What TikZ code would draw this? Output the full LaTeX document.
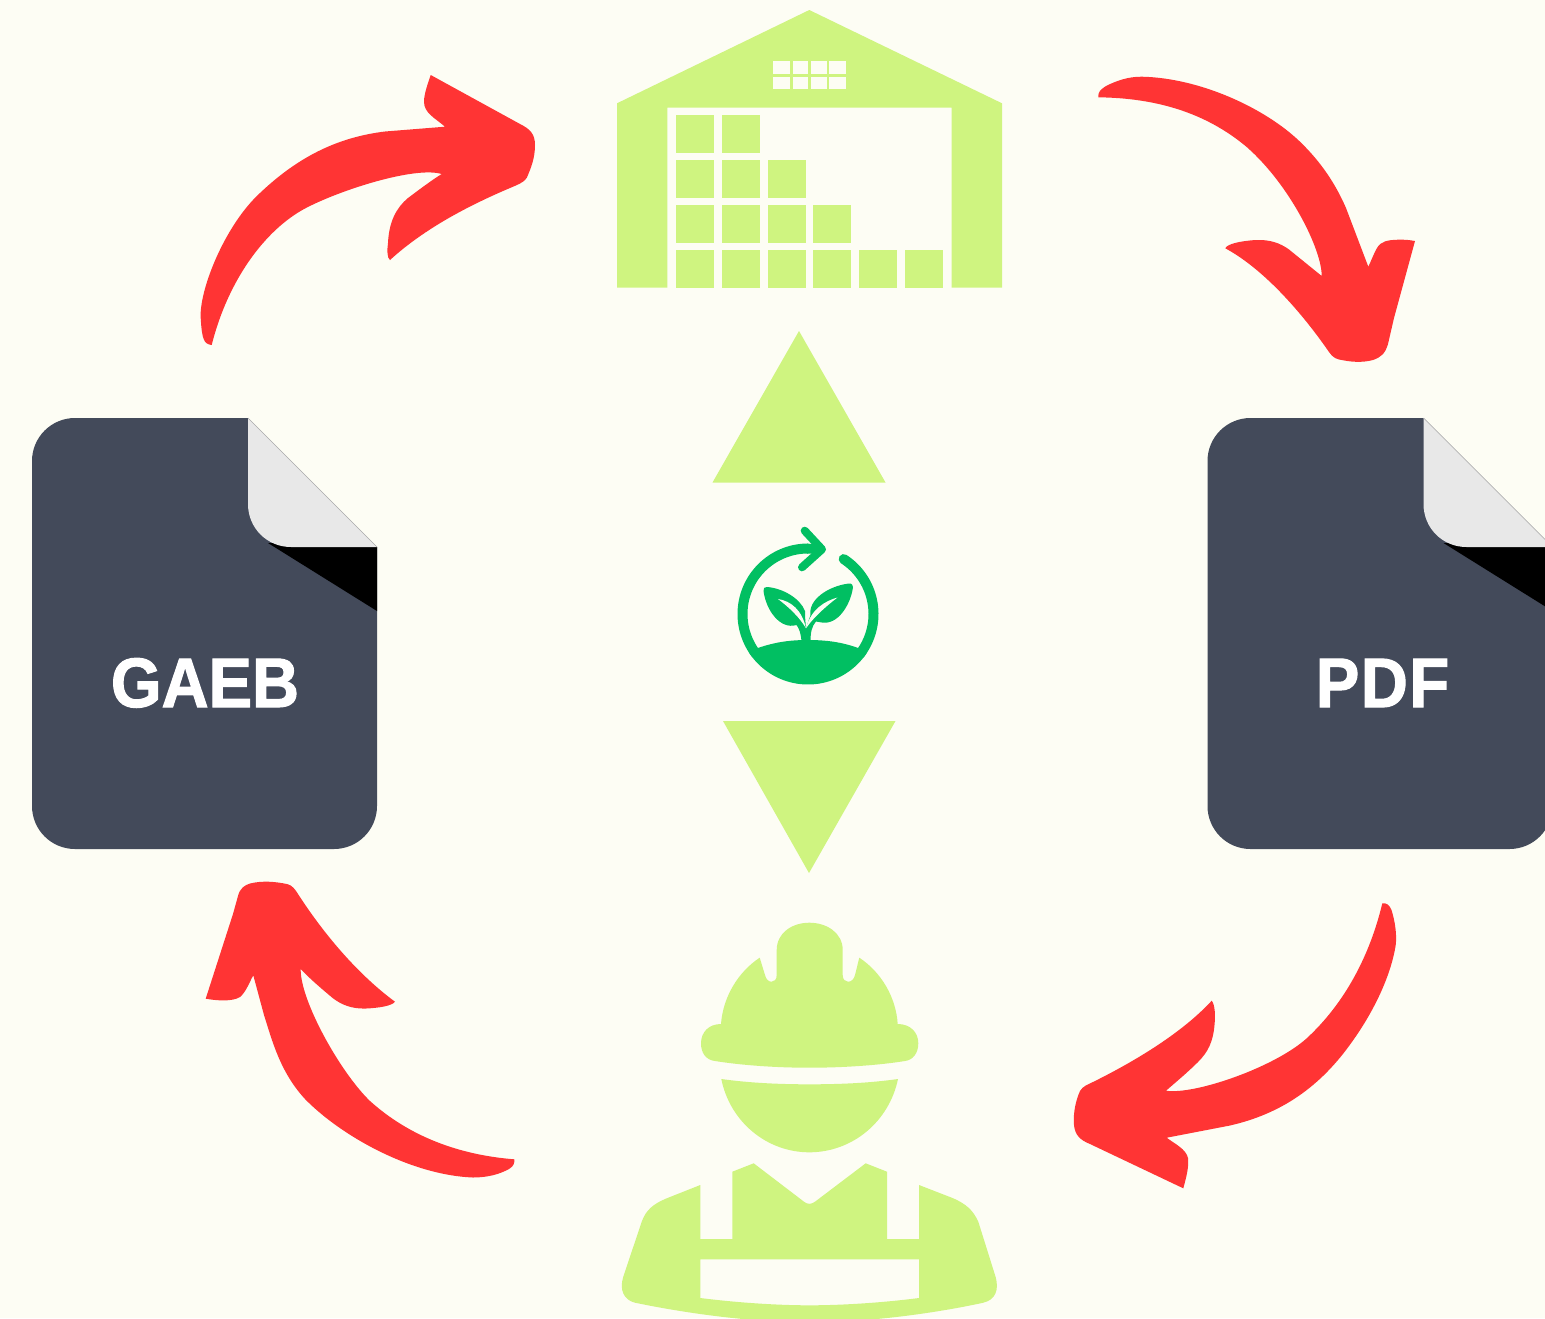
\documentclass[tikz,border=0pt]{standalone}
\usepackage{fontspec}
\newfontfamily\labelfont[FakeStretch=0.93,FakeBold=1.6]{Liberation Sans}
\definecolor{paper}{HTML}{FDFDF4}
\definecolor{lime}{HTML}{CFF480}
\definecolor{redarrow}{HTML}{FF3434}
\definecolor{slatefile}{HTML}{434A5A}
\definecolor{foldgrey}{HTML}{E8E8E8}
\definecolor{ecogreen}{HTML}{01BF62}
\tikzset{
  crate/.style={fill=lime},
  redshape/.style={fill=redarrow},
  filelabel/.style={text=white,anchor=base,inner sep=0pt,font=\labelfont\bfseries\fontsize{70}{70}\selectfont}
}
\newcommand{\filedoc}{%
  \fill[slatefile] (32,600) [rounded corners=43pt] -- (32,418) [sharp corners] -- (248,418) -- (377,547) [rounded corners=43pt] -- (377,849) -- (32,849) [sharp corners] -- cycle;
  \fill[black] (268,543) -- (377,547) -- (377,611) -- cycle;
  \fill[foldgrey] (248,418) -- (377,547) -- (291,547) .. controls (267,547) and (248,528) .. (248,504) -- cycle;
  \draw[gray!60,line width=0.6pt] (248,418) -- (377,547);
}
\begin{document}
\begin{tikzpicture}[x=1pt,y=-1pt]
\useasboundingbox (0,0) rectangle (1545,1318);
\clip (0,0) rectangle (1545,1318);
\fill[paper] (0,0) rectangle (1545,1318);

% warehouse
\fill[lime] (617,103.3) -- (809.3,10) -- (1002,103.3) -- (1002,287.7) -- (951.7,287.7) -- (951.7,107.7) -- (667.3,107.7) -- (667.3,287.7) -- (617,287.7) -- cycle;
\foreach \xa/\ya/\xb/\yb in {
  676/115/714/153, 722/115/760/153,
  676/160/714/198, 722/160/760/198, 768/160/806/198,
  676/205/714/243, 722/205/760/243, 768/205/806/243, 813/205/851/243,
  676/250/714/287.7, 722/250/760/287.7, 768/250/806/287.7, 813/250/851/287.7, 859/250/897/287.7, 905/250/943/287.7}
  \fill[crate] (\xa,\ya) rectangle (\xb,\yb);
\foreach \xa/\xb in {773.3/790, 792.7/808, 811/826.7, 829.3/845.7}
  \foreach \ya/\yb in {61.3/74, 77.3/89}
    \fill[paper] (\xa,\ya) rectangle (\xb,\yb);

% triangles
\fill[lime] (799,331) -- (885.5,482.5) -- (712.5,482.5) -- cycle;
\fill[lime] (723,721) -- (895.5,721) -- (809,873) -- cycle;

% files
\filedoc
\begin{scope}[xshift=1175.5pt]
\filedoc
\end{scope}
\node[filelabel] (gaeb) at (205,707) {GAEB};
\node[filelabel] (pdf) at (1382.5,707) {P\kern1.5pt D\kern1.5pt F};

% eco icon
\draw[ecogreen,line width=10pt] plot[domain=90:218,samples=50] ({808+65.5*cos(\x)},{614-65.5*sin(\x)});
\draw[ecogreen,line width=10pt,line cap=round] plot[domain=57:-38,samples=50] ({808+65.5*cos(\x)},{614-65.5*sin(\x)});
\fill[ecogreen] (807,543.5) -- (820,545) -- (820,553.5) -- (807,553.5) -- cycle;
\draw[ecogreen,line width=8pt,line cap=round,line join=round] (804.7,530.7) -- (822,549.3) -- (802,567.3);
\fill[ecogreen] (757,648.3) .. controls (775,642) and (790,640) .. (808,640) .. controls (826,640) and (842,642) .. (859,648.3) -- plot[domain=-33:-147,samples=50] ({808+70.5*cos(\x)},{614-70.5*sin(\x)}) -- cycle;
\fill[ecogreen] (767,587) .. controls (782,588) and (800,598) .. (805,611) -- (805,616) -- (806,628.3) -- (810.5,615) .. controls (808,600) and (828,586) .. (849,583.5) .. controls (852,583) and (853.5,586) .. (852.7,589) .. controls (850,605) and (838,625) .. (822,622.5) -- (816,621.5) .. controls (812,626) and (810.5,632) .. (810.5,641) -- (801.5,641) .. controls (801,634) and (799,628) .. (796.5,625) .. controls (780,630) and (766,610) .. (763.5,591) .. controls (763,588) and (764.5,587) .. (767,587) -- cycle;
\fill[paper] (778,599) .. controls (791,601) and (802,610) .. (806,628.3) .. controls (800,618) and (790,608) .. (778,599) -- cycle;
\fill[paper] (837.5,597.5) .. controls (825,601) and (811,609) .. (806,628.3) .. controls (813,618) and (825,607) .. (837.5,597.5) -- cycle;

% worker
\fill[lime] (776.7,975) -- (776.7,950) .. controls (776.7,933) and (792,922.7) .. (809.3,922.7) .. controls (827,922.7) and (842.7,933) .. (842.7,950) -- (842.7,975) .. controls (842.7,984) and (853,984) .. (855,975) -- (859.3,957.7) .. controls (881,972) and (896,997) .. (897.7,1024) .. controls (910,1024) and (918.3,1032) .. (918.3,1043.3) .. controls (918.3,1053) and (913,1060) .. (905,1061) .. controls (880,1065) and (845,1067.7) .. (809.3,1067.7) .. controls (774,1067.7) and (740,1065) .. (715,1061) .. controls (706,1060) and (701,1053) .. (701,1043.3) .. controls (701,1032) and (709,1024) .. (721,1024) .. controls (723,997) and (738,972) .. (759.7,957.7) -- (765,975) .. controls (767,984) and (776.7,984) .. (776.7,975) -- cycle;
\fill[lime] (721.3,1079) .. controls (750,1083) and (780,1084.3) .. (809.3,1084.3) .. controls (840,1084.3) and (870,1083) .. (898,1079) .. controls (889,1122) and (852,1152.3) .. (809.3,1152.3) .. controls (767,1152.3) and (730,1122) .. (721.3,1079) -- cycle;
\fill[lime,even odd rule] (700.3,1185) -- (666.7,1198.3) .. controls (653,1204) and (646,1210) .. (641.7,1221.7) -- (623.3,1276.7) .. controls (619,1290) and (624,1300) .. (635,1302.7) .. controls (670,1310) and (710,1316) .. (743,1319) -- (876.7,1319) .. controls (910,1316) and (950,1310) .. (983.3,1302.7) .. controls (995,1300) and (1000,1290) .. (995,1275) -- (978.3,1221.7) .. controls (973,1210) and (966,1204) .. (953.3,1198.3) -- (919,1185) -- (919,1239) -- (887,1239) -- (887,1171.7) -- (865.7,1163.3) -- (815,1201.7) .. controls (811,1204.5) and (807.5,1204.5) .. (804,1201.7) -- (753.7,1163.3) -- (732.3,1171.7) -- (732.3,1239) -- (700.3,1239) -- cycle
  (700.3,1259.3) -- (919,1259.3) -- (919,1298) .. controls (880,1303) and (840,1305.3) .. (809.3,1305.3) .. controls (780,1305.3) and (740,1303) .. (700.3,1298) -- cycle;

% arrows
\fill[redshape] (211.7,345) .. controls (204,344) and (202,340) .. (200.7,318) .. controls (199,290) and (225,225) .. (260,193) .. controls (300,155) and (340,137) .. (385,131.5) -- (445,126.7)
 .. controls (435,118) and (424,113) .. (424,101.7) .. controls (424,94) and (428,83) .. (430.7,75) -- (520,124) .. controls (530,129) and (535,134) .. (535,145) .. controls (535,158) and (531,168) .. (526.7,178) .. controls (523,183) and (518,184.5) .. (510,188) .. controls (470,205) and (425,228) .. (390,260)
 .. controls (387,258) and (387,250) .. (388,243) .. controls (389,222) and (396,208) .. (408,198) .. controls (420,189) and (432,180) .. (441.7,174)
 .. controls (415,166) and (340,190) .. (305,208.5) .. controls (265,230) and (228,280) .. (211.7,345) -- cycle;
\fill[redshape] (1098.3,97.3) .. controls (1098,92) and (1100,90) .. (1106,86) .. controls (1116,81) and (1128,76.5) .. (1142,76.7) .. controls (1200,78) and (1265,108) .. (1300,141.7) .. controls (1322,163) and (1336,185) .. (1346,208) -- (1368.3,266.7)
 .. controls (1372,259) and (1374,253) .. (1377,248) .. controls (1381,241) and (1388,240) .. (1398,239.7) .. controls (1404,239.5) and (1410,240) .. (1415,241) -- (1394,318) -- (1388,344) .. controls (1385,354) and (1381,357) .. (1373,360) .. controls (1362,363) and (1350,362) .. (1338.3,359.3) .. controls (1334,358) and (1332,356) .. (1329,352) .. controls (1300,310) and (1262,268) .. (1225.3,248.3)
 .. controls (1227,244) and (1240,241) .. (1256,240) .. controls (1270,239.5) and (1280,243) .. (1289,249.5) -- (1321.7,276)
 .. controls (1322,250) and (1290,185) .. (1246.7,147) .. controls (1205,112) and (1155,98) .. (1098.3,97.3) -- cycle;
\fill[redshape] (1382.3,903.3) .. controls (1386,903) and (1389,904) .. (1391.5,910) .. controls (1395,921) and (1397,935) .. (1395.7,945) .. controls (1392,970) and (1378,1005) .. (1353.3,1040) .. controls (1320,1088) and (1280,1114) .. (1230,1125.5) -- (1166.7,1137.7)
 .. controls (1175,1144) and (1186,1149) .. (1188,1158) .. controls (1189,1168) and (1186,1178) .. (1183.3,1188.3) -- (1090,1144) .. controls (1080,1140) and (1075,1135) .. (1074,1125) .. controls (1073,1112) and (1076,1100) .. (1080,1091) .. controls (1083,1086) and (1087,1085) .. (1095,1081) .. controls (1135,1061) and (1182,1033) .. (1211.7,1000.7)
 .. controls (1215,1005) and (1215.5,1015) .. (1214.5,1025) .. controls (1213,1042) and (1208,1052) .. (1198,1062) .. controls (1188,1072) and (1176,1082) .. (1166,1090.7)
 .. controls (1195,1095) and (1275,1067) .. (1306.7,1038.3) .. controls (1345,1003) and (1370,955) .. (1382.3,903.3) -- cycle;
\fill[redshape] (514.3,1159.3) .. controls (514.5,1163) and (514,1166) .. (509,1169) .. controls (500,1174) and (488,1177.5) .. (473,1177.5) .. controls (410,1175) and (340,1135) .. (305,1099) .. controls (280,1072) and (272,1040) .. (264,1015) -- (253.3,975.3)
 .. controls (249,983) and (246,992) .. (240,997) .. controls (232,1002) and (216,1000.5) .. (205.7,998.7) -- (233,914) -- (238,896) .. controls (240,888) and (245,885) .. (250,883.5) .. controls (262,880.5) and (276,881.5) .. (288,884.3) .. controls (292,885.5) and (295,889) .. (298,894) .. controls (318,925) and (352,970) .. (395,1001.7)
 .. controls (392,1006) and (378,1008) .. (366,1008.5) .. controls (352,1009) and (342,1005) .. (333,998.3) .. controls (322,989) and (310,979) .. (300.7,969)
 .. controls (300,1000) and (340,1072) .. (370,1101) .. controls (410,1137) and (460,1155) .. (514.3,1159.3) -- cycle;
\end{tikzpicture}
\end{document}
